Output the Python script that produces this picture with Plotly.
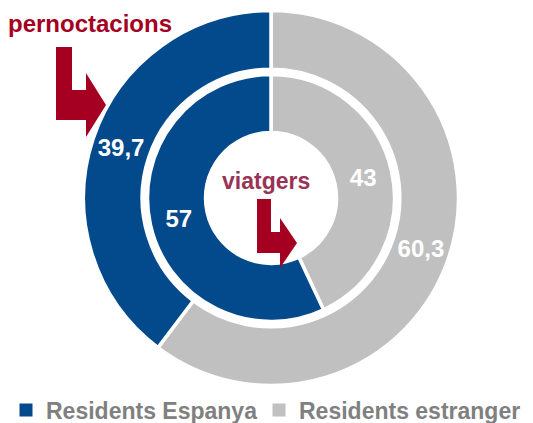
import plotly.graph_objects as go

labels = ["Residents Espanya", "Residents estranger"]
pernoctacions = [39.7, 60.3]
viatgers = [57, 43]
colors = ["#034A8C", "#C0C0C0"]

W, H = 533, 423
OX, OY = 8, 8  # page body margin offset

def fmt(v):
    return str(v).replace(".", ",")

def px(x):
    return (x - OX) / W

def py(y):
    return 1 - (y - OY) / H

cx, cy = 271, 198
R_out, R_in = 187.5, 123.5

# slices drawn clockwise from 12 o'clock: foreign residents first, Spanish residents second
order = [1, 0]

def pie(values, hole, R):
    return go.Pie(
        labels=[labels[i] for i in order], values=[values[i] for i in order],
        sort=False, direction="clockwise", rotation=0, hole=hole,
        domain=dict(x=[px(cx - R), px(cx + R)], y=[py(cy + R), py(cy - R)]),
        marker=dict(colors=[colors[i] for i in order], line=dict(color="white", width=3.5)),
        text=[fmt(values[i]) for i in order], textinfo="text", textposition="inside",
        insidetextorientation="horizontal",
        textfont=dict(family="Liberation Sans", size=24, color="white", weight="bold"),
        hoverinfo="label+value", showlegend=False,
    )

fig = go.Figure()
fig.add_trace(pie(pernoctacions, 0.687, R_out))
fig.add_trace(pie(viatgers, 0.53, R_in))
legend_ids = ["legend", "legend2"]
for lab, col, lg in zip(labels, colors, legend_ids):
    fig.add_trace(go.Scatter(
        x=[None], y=[None], mode="markers", name=lab, legend=lg,
        marker=dict(symbol="square", size=13, color=col), showlegend=True,
    ))

def poly(pts):
    d = "M " + " L ".join(f"{px(x):.5f},{py(y):.5f}" for x, y in pts) + " Z"
    return dict(type="path", xref="paper", yref="paper", path=d,
                fillcolor="#A50021", line=dict(width=0), layer="above")

arrow1 = [(56, 47), (72, 47), (72, 90), (86, 90), (86, 73), (106, 105),
          (86, 137), (86, 120), (56, 120)]
arrow2 = [(257, 199), (271, 199), (271, 232), (280, 232), (280, 218), (297, 243),
          (280, 268), (280, 253), (257, 253)]

legend_font = dict(family="Liberation Sans", size=23, color="#808080", weight="bold")

fig.update_layout(
    width=W, height=H,
    margin=dict(l=0, r=0, t=0, b=0, autoexpand=False),
    paper_bgcolor="white", plot_bgcolor="white",
    xaxis=dict(visible=False), yaxis=dict(visible=False),
    shapes=[poly(arrow1), poly(arrow2)],
    annotations=[
        dict(text="pernoctacions", x=px(6), y=py(23), xref="paper", yref="paper",
             xanchor="left", yanchor="middle", showarrow=False,
             font=dict(family="Liberation Sans", size=24, color="#A50021", weight="bold")),
        dict(text="viatgers", x=px(266), y=py(181), xref="paper", yref="paper",
             xanchor="center", yanchor="middle", showarrow=False,
             font=dict(family="Liberation Sans", size=23, color="#993355", weight="bold")),
    ],
    legend=dict(orientation="h", x=px(6), xanchor="left", y=py(410), yanchor="middle",
                font=legend_font, itemwidth=30, bgcolor="rgba(0,0,0,0)"),
    legend2=dict(orientation="h", x=px(259), xanchor="left", y=py(410), yanchor="middle",
                 font=legend_font, itemwidth=30, bgcolor="rgba(0,0,0,0)"),
)

fig.write_html("out.html")
